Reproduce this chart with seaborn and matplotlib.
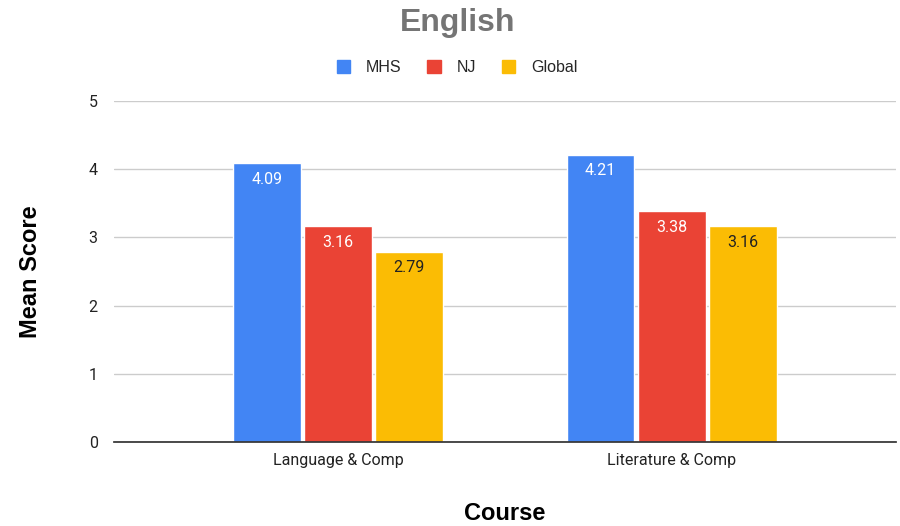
import pandas as pd
import matplotlib
matplotlib.use("Agg")
import matplotlib.pyplot as plt
import seaborn as sns

courses = ["Language & Comp", "Literature & Comp"]
groups = ["MHS", "NJ", "Global"]
mhs = [4.09, 4.21]
nj = [3.16, 3.38]
glob = [2.79, 3.16]

colors = ["#4285F4", "#EA4335", "#FBBC04"]

df = pd.DataFrame({
    "Course": courses * 3,
    "Group": [g for g in groups for _ in courses],
    "Score": mhs + nj + glob,
})

sns.set_theme(style="white")
plt.rcParams["font.family"] = ["Roboto", "DejaVu Sans"]

fig = plt.figure(figsize=(9, 5.26), dpi=100)
ax = fig.add_axes([0.127, 0.160, 0.868, 0.648])

sns.barplot(data=df, x="Course", y="Score", hue="Group", hue_order=groups,
            palette=colors, width=0.64, gap=0.05, saturation=1, ax=ax,
            legend=False, errorbar=None)

ax.set_ylim(0, 5)
ax.set_xlim(-0.67, 1.67)
ax.set_yticks(range(6))
ax.yaxis.grid(True, color="#cccccc", lw=1)
ax.set_axisbelow(True)
for s in ["top", "right", "left"]:
    ax.spines[s].set_visible(False)
ax.spines["bottom"].set_color("#333333")
ax.tick_params(axis="both", length=0, labelsize=11.5, colors="#222222", pad=8)
ax.tick_params(axis="y", pad=12)

# value labels inside the bar tops
label_colors = ["white", "white", "#222222"]
for cont, lc in zip(ax.containers, label_colors):
    ax.bar_label(cont, fmt="%.2f", padding=-17, color=lc, fontsize=11.5)

ax.set_xlabel("Course", fontsize=17, fontweight="bold", family="Liberation Sans",
              color="black")
ax.set_ylabel("Mean Score", fontsize=17, fontweight="bold", family="Liberation Sans",
              color="black")
ax.xaxis.set_label_coords(0.5, -0.21, transform=ax.transAxes)
ax.xaxis.label.set_va("center")
ax.yaxis.set_label_coords(-0.107, 0.5, transform=ax.transAxes)
ax.yaxis.label.set_va("center")

fig.suptitle("English", x=0.508, y=0.985, fontsize=23, fontweight="bold",
             color="#757575", family="Liberation Sans")

handles = [plt.Rectangle((0, 0), 1, 1, color=c) for c in colors]
fig.legend(handles, groups, loc="center", bbox_to_anchor=(0.508, 0.872), ncol=3,
           frameon=False, handlelength=0.85, handleheight=0.85,
           columnspacing=1.6, handletextpad=1.0,
           prop={"family": "Liberation Sans", "size": 11.5})

fig.savefig("out.png", dpi=100)
